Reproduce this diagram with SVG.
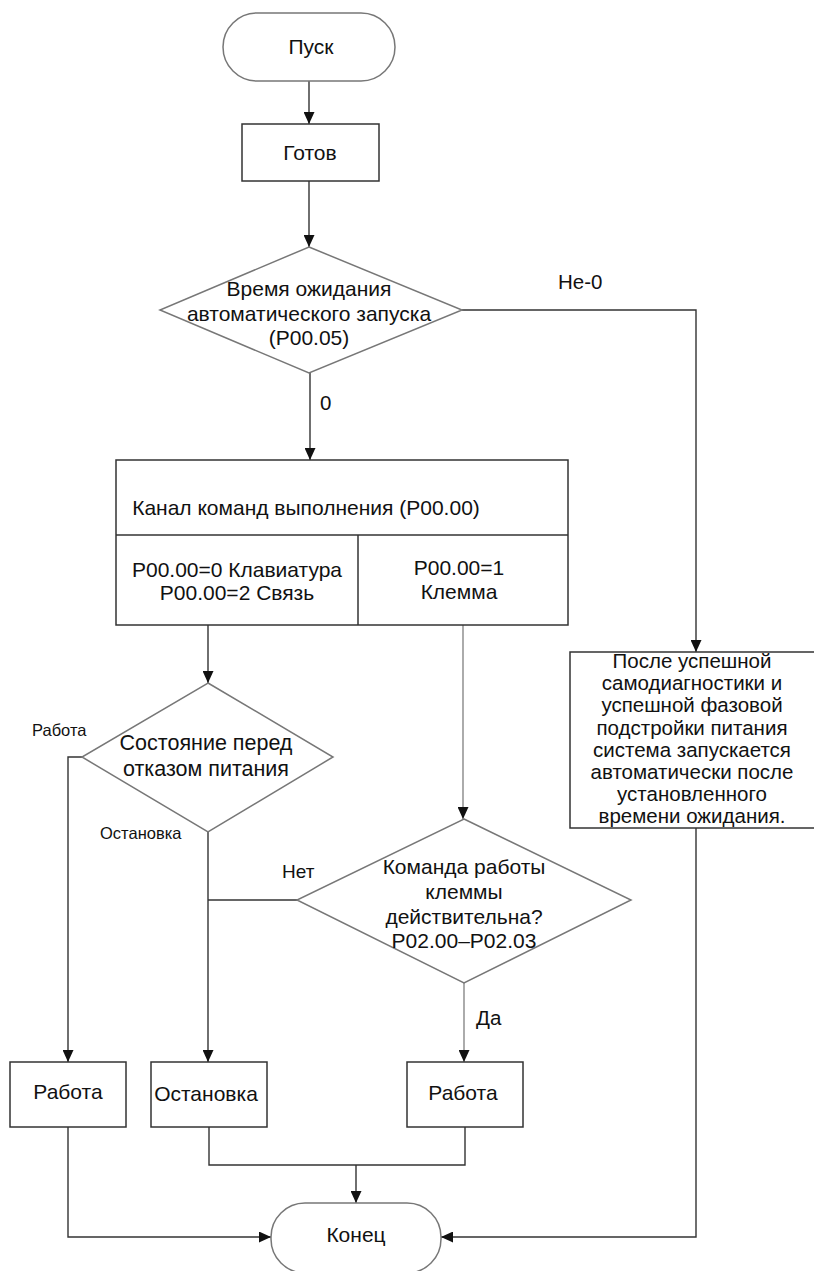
<svg xmlns="http://www.w3.org/2000/svg" width="814" height="1271" viewBox="0 0 814 1271">
<style>
.t{font-family:"Liberation Sans",Arial,sans-serif;font-size:21px;fill:#111;text-anchor:middle}
.p{font-size:20.5px}
.s{font-family:"Liberation Sans",Arial,sans-serif;font-size:16.5px;fill:#111}
.l{font-family:"Liberation Sans",Arial,sans-serif;font-size:20.5px;fill:#111}
.box{fill:#fff;stroke:#333;stroke-width:1.5}
.dia{fill:#fff;stroke:#777;stroke-width:1.5}
.c{fill:none;stroke:#333;stroke-width:1.4}
</style>
<defs>
<marker id="ar" markerUnits="userSpaceOnUse" markerWidth="12" markerHeight="11" refX="12" refY="5.5" orient="auto">
<path d="M0,0 L12,5.5 L0,11 z" fill="#111"/>
</marker>
</defs>
<rect width="814" height="1271" fill="#fff"/>
<g id="connectors">
<path class="c" d="M309,81 V124" marker-end="url(#ar)"/>
<path class="c" d="M309,181 V247" marker-end="url(#ar)"/>
<path class="c" d="M310,373 V460" marker-end="url(#ar)"/>
<path class="c" d="M462,310 H696 V652" marker-end="url(#ar)"/>
<path class="c" d="M208,625 V683" marker-end="url(#ar)"/>
<path class="c" d="M463,625 V819" style="stroke:#888" marker-end="url(#ar)"/>
<path class="c" d="M82,757 H68 V1062" marker-end="url(#ar)"/>
<path class="c" d="M208,832 V1062" marker-end="url(#ar)"/>
<path class="c" d="M297,900 H208"/>
<path class="c" d="M464,983 V1062" style="stroke:#888" marker-end="url(#ar)"/>
<path class="c" d="M209,1127 V1165 H465 V1127"/>
<path class="c" d="M356,1165 V1203" marker-end="url(#ar)"/>
<path class="c" d="M68,1127 V1237 H271" marker-end="url(#ar)"/>
<path class="c" d="M696,828 V1237 H441" marker-end="url(#ar)"/>
</g>
<g id="labels">
<text class="l" x="558" y="289">Не-0</text>
<text class="l" x="320" y="410">0</text>
<text class="s" x="32" y="736">Работа</text>
<text class="s" x="100" y="839">Остановка</text>
<text class="l" x="282" y="878" style="font-size:19px">Нет</text>
<text class="l" x="476" y="1025">Да</text>
</g>
<g id="start">
<rect class="box" x="223" y="13" width="172" height="68" rx="34" ry="34" style="stroke:#777"/>
<text class="t" x="311" y="54">Пуск</text>
</g>
<g id="ready">
<rect class="box" x="242" y="124" width="137" height="57"/>
<text class="t" x="310" y="160">Готов</text>
</g>
<g id="decision-wait">
<polygon class="dia" points="309,247 462,310 309,373 160,310"/>
<text class="t" x="309" y="296">Время ожидания</text>
<text class="t" x="309" y="321">автоматического запуска</text>
<text class="t" x="309" y="345">(P00.05)</text>
</g>
<g id="channel">
<rect class="box" x="116" y="460" width="452" height="165"/>
<line class="box" x1="116" y1="535" x2="568" y2="535"/>
<line class="box" x1="358" y1="535" x2="358" y2="625"/>
<text class="t" x="306" y="515">Канал команд выполнения (P00.00)</text>
<text class="t" x="237" y="577">P00.00=0 Клавиатура</text>
<text class="t" x="237" y="600">P00.00=2 Связь</text>
<text class="t" x="459" y="575">P00.00=1</text>
<text class="t" x="459" y="599">Клемма</text>
</g>
<g id="decision-power">
<polygon class="dia" points="208,683 333,757 208,832 82,757"/>
<text class="t" x="206" y="750" style="font-size:21.5px">Состояние перед</text>
<text class="t" x="206" y="776" style="font-size:21.5px">отказом питания</text>
</g>
<g id="decision-terminal">
<polygon class="dia" points="464,819 631,900 464,983 297,900"/>
<text class="t" x="464" y="874">Команда работы</text>
<text class="t" x="464" y="899">клеммы</text>
<text class="t" x="464" y="924">действительна?</text>
<text class="t" x="464" y="948">P02.00–P02.03</text>
</g>
<g id="auto-start">
<rect class="box" x="570" y="652" width="250" height="176"/>
<text class="t p" x="692" y="668">После успешной</text>
<text class="t p" x="692" y="690">самодиагностики и</text>
<text class="t p" x="692" y="712">успешной фазовой</text>
<text class="t p" x="692" y="735">подстройки питания</text>
<text class="t p" x="692" y="757">система запускается</text>
<text class="t p" x="692" y="779">автоматически после</text>
<text class="t p" x="692" y="801">установленного</text>
<text class="t p" x="692" y="823">времени ожидания.</text>
</g>
<g id="run1">
<rect class="box" x="10" y="1062" width="116" height="65"/>
<text class="t" x="68" y="1099">Работа</text>
</g>
<g id="stop">
<rect class="box" x="151" y="1062" width="116" height="65"/>
<text class="t" x="206" y="1101">Остановка</text>
</g>
<g id="run2">
<rect class="box" x="407" y="1062" width="116" height="65"/>
<text class="t" x="463" y="1100">Работа</text>
</g>
<g id="end">
<rect class="box" x="271" y="1203" width="170" height="70" rx="34" ry="34" style="stroke:#777"/>
<text class="t" x="356" y="1242">Конец</text>
</g>
</svg>
